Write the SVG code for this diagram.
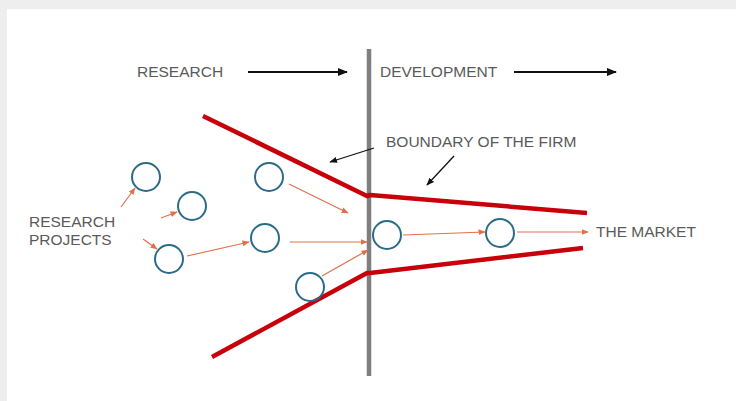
<svg xmlns="http://www.w3.org/2000/svg" width="736" height="401" viewBox="0 0 736 401">
<defs>
<marker id="blk" viewBox="0 0 10 10" refX="9" refY="5" markerWidth="5" markerHeight="5" orient="auto" markerUnits="strokeWidth"><path d="M0,1 L10,5 L0,9 z" fill="#111"/></marker>
<marker id="blk2" viewBox="0 0 10 10" refX="9" refY="5" markerWidth="6" markerHeight="6" orient="auto" markerUnits="strokeWidth"><path d="M0,1 L10,5 L0,9 z" fill="#111"/></marker>
<marker id="org" viewBox="0 0 10 10" refX="9" refY="5" markerWidth="6" markerHeight="6" orient="auto" markerUnits="strokeWidth"><path d="M0,1 L10,5 L0,9 z" fill="#e0704a"/></marker>
</defs>
<style>
.t{font-family:"Liberation Sans",Arial,sans-serif;font-size:15.5px;fill:#5a5a5a}
.red{stroke:#c8000a;stroke-width:4.5;fill:none;stroke-linecap:butt;stroke-linejoin:round}
.c{fill:none;stroke:#2b6b88;stroke-width:2}
.oa{stroke:#e0704a;stroke-width:1.2;fill:none;marker-end:url(#org)}
.ba{stroke:#111;stroke-width:2;fill:none;marker-end:url(#blk)}
.bp{stroke:#111;stroke-width:1.3;fill:none;marker-end:url(#blk2)}
</style>
<rect x="0" y="0" width="736" height="401" fill="#eeeeee"/>
<rect x="7" y="9" width="729" height="392" fill="#ffffff"/>

<g id="labels">
<text class="t" x="137" y="77">RESEARCH</text>
<text class="t" x="380" y="77">DEVELOPMENT</text>
<text class="t" x="386" y="147">BOUNDARY OF THE FIRM</text>
<text class="t" x="29" y="227">RESEARCH</text>
<text class="t" x="29" y="245">PROJECTS</text>
<text class="t" x="596" y="237">THE MARKET</text>
</g>

<g id="boundary">
<line x1="369" y1="49" x2="369" y2="376" stroke="#7f7f7f" stroke-width="4.5"/>
<polyline class="red" points="203,116 367,196 370,195 587,213"/>
<polyline class="red" points="212,357 367,273 370,273 583,248"/>
</g>

<g id="n1"><circle class="c" cx="146" cy="177" r="14"/></g>
<g id="n2"><circle class="c" cx="192" cy="206" r="14"/></g>
<g id="n3"><circle class="c" cx="169" cy="259" r="14"/></g>
<g id="n4"><circle class="c" cx="269" cy="177" r="14"/></g>
<g id="n5"><circle class="c" cx="265" cy="238" r="14"/></g>
<g id="n6"><circle class="c" cx="310" cy="287" r="14"/></g>
<g id="n7"><circle class="c" cx="387" cy="235" r="14"/></g>
<g id="n8"><circle class="c" cx="500" cy="233" r="14"/></g>

<g id="connectors">
<line class="ba" x1="248" y1="72" x2="347" y2="72"/>
<line class="ba" x1="514" y1="72" x2="616" y2="72"/>
<line class="bp" x1="374" y1="148" x2="330" y2="162"/>
<line class="bp" x1="454" y1="156" x2="427" y2="185"/>
<line class="oa" x1="121" y1="207" x2="135" y2="188"/>
<line class="oa" x1="161" y1="218" x2="177" y2="212"/>
<line class="oa" x1="143" y1="239" x2="157" y2="249"/>
<line class="oa" x1="187" y1="256" x2="249" y2="242"/>
<line class="oa" x1="289" y1="184" x2="348" y2="213"/>
<line class="oa" x1="290" y1="242" x2="367" y2="242"/>
<line class="oa" x1="322" y1="276" x2="368" y2="250"/>
<line class="oa" x1="403" y1="235" x2="485" y2="232"/>
<line class="oa" x1="517" y1="232" x2="588" y2="232"/>
</g>
</svg>
